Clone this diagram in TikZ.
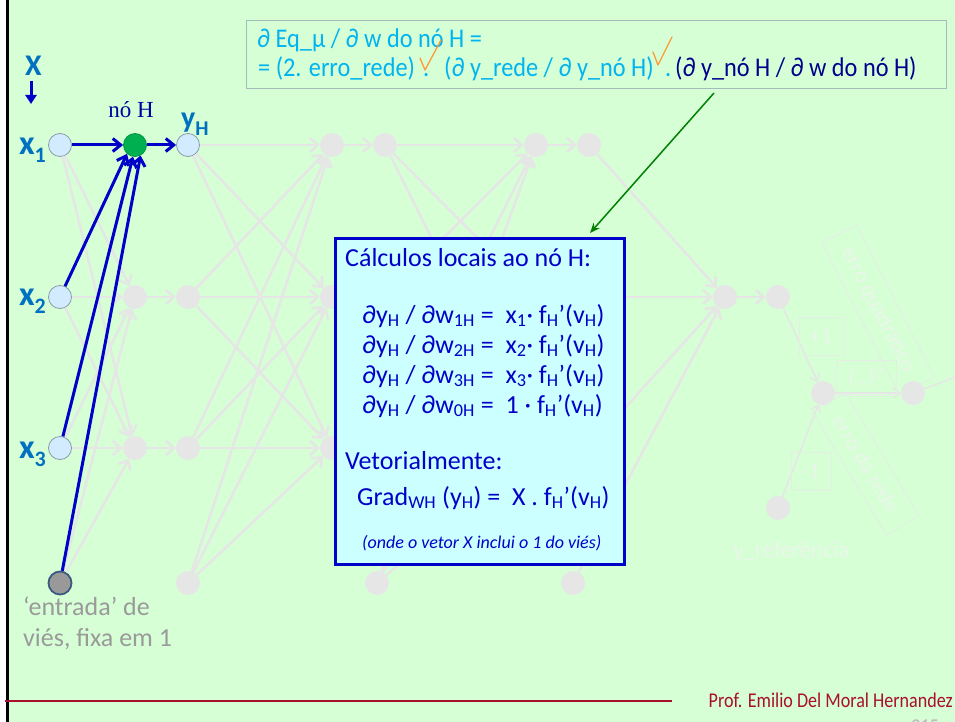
\documentclass[tikz,border=0pt]{standalone}
\usepackage{fontspec}
\setmainfont{Carlito}
\newfontfamily\serifnode{Liberation Serif}
\newfontfamily\narrowfont[FakeStretch=0.9]{Carlito}
\newfontfamily\footfont[FakeStretch=0.86]{Carlito}
\usetikzlibrary{arrows.meta}
\definecolor{bg}{HTML}{D6FFD6}
\definecolor{fade}{HTML}{E6E6E6}
\definecolor{fadetxt}{HTML}{EAF6EA}
\definecolor{fadebox}{HTML}{E4EEE4}
\definecolor{xblue}{HTML}{0070C0}
\definecolor{dblue}{HTML}{0000C8}
\definecolor{cyantxt}{HTML}{00B4F0}
\definecolor{navyc}{HTML}{00008C}
\definecolor{inblue}{HTML}{D3EBFF}
\definecolor{ingray}{HTML}{8C9CAC}
\definecolor{hgreen}{HTML}{00B050}
\definecolor{calcfill}{HTML}{CCFFFF}
\definecolor{footred}{HTML}{A8102C}
\definecolor{chk}{HTML}{FF9933}
\definecolor{fbord}{HTML}{A6BABA}
\definecolor{biasfill}{HTML}{999999}
\definecolor{biasbord}{HTML}{3C5A80}
\definecolor{graytxt}{HTML}{9A9A9A}
\definecolor{garrow}{HTML}{008000}
\newcommand\lsub[2][22]{\raisebox{-8pt}{\fontsize{#1}{#1}\selectfont #2}}
\begin{document}
\begin{tikzpicture}[x=1pt,y=-1pt,
  fnode/.style={circle,fill=fade,minimum size=24pt,inner sep=0pt},
  innode/.style={circle,draw=ingray,fill=inblue,line width=0.8pt,minimum size=23pt,inner sep=0pt},
  hnode/.style={circle,draw=hgreen!85!black,fill=hgreen,line width=0.8pt,minimum size=23pt,inner sep=0pt},
  biasnode/.style={circle,draw=biasbord,fill=biasfill,line width=1.8pt,minimum size=23pt,inner sep=0pt},
  fedge/.style={draw=fade,line width=2.5pt,-{Straight Barb[length=8pt,width=14pt]}},
  fthin/.style={draw=fade,line width=1.5pt,-{Straight Barb[length=6pt,width=10pt]}},
  fline/.style={draw=fade,line width=1.5pt},
  fbox/.style={draw=fadebox,line width=0.8pt,text=fadetxt,font=\fontsize{22}{24}\selectfont,inner sep=0pt},
  bedge/.style={draw=dblue,line width=3pt,-{Straight Barb[length=8pt,width=13pt]}},
  lbl/.style={text=xblue,font=\bfseries\fontsize{34}{36}\selectfont,inner sep=0pt},
  ctext/.style={text=dblue,font=\fontsize{26}{28}\selectfont,anchor=base west,inner sep=0pt},
  ftext/.style={font=\narrowfont\fontsize{27}{29}\selectfont,anchor=base west,inner sep=0pt},
  chkline/.style={draw=chk,line width=1.3pt,line join=round,line cap=round},
  gtext/.style={text=graytxt,font=\fontsize{26}{28}\selectfont,anchor=base west,inner sep=0pt},
  garr/.style={draw=garrow,line width=1.5pt,-{Stealth[length=10pt,width=8pt]}}
]
\useasboundingbox (0,0) rectangle (955,722);
\fill[bg] (0,0) rectangle (955,722);
\fill[white] (0,0) rectangle (6,722);
\draw[black,line width=3pt] (7.5,0) -- (7.5,722);

% faded network nodes
\foreach \n/\x/\y in {s12/135/297, s13/135/448, o12/188/297, o13/188/448, b1/188/583,
  s21/332/145, s22/332/297, s23/332/448, o21/385/145, o22/385/297, o23/385/448, b2/377/583,
  s31/536/145, s32/536/297, s33/536/448, o31/589/145, o32/589/297, o33/589/448, b3/573/583,
  s4/725/297, o4/778/297, e/823/393, sq/913/393, yref/778/508}
  \node[fnode] (\n) at (\x,\y) {};

% highlighted nodes
\node[innode] (in1) at (60,145) {};
\node[innode] (in2) at (60,297) {};
\node[innode] (in3) at (60,448) {};
\node[biasnode] (b0) at (60,583) {};
\node[hnode] (H) at (135,145) {};
\node[innode] (yH) at (188,145) {};

% faded edges
\foreach \s in {s12,s13} \foreach \i in {in1,in2,in3,b0} \draw[fedge] (\i) -- (\s);
\draw[fedge] (s12) -- (o12);
\draw[fedge] (s13) -- (o13);
\foreach \s in {s21,s22,s23} \foreach \i in {yH,o12,o13,b1} \draw[fedge] (\i) -- (\s);
\foreach \s/\o in {s21/o21,s22/o22,s23/o23} \draw[fedge] (\s) -- (\o);
\foreach \s in {s31,s32,s33} \foreach \i in {o21,o22,o23,b2} \draw[fedge] (\i) -- (\s);
\foreach \s/\o in {s31/o31,s32/o32,s33/o33} \draw[fedge] (\s) -- (\o);
\foreach \i in {o31,o32,o33,b3} \draw[fedge] (\i) -- (s4);
\draw[fedge] (s4) -- (o4);

% faded error part
\draw[fthin] (o4) -- (e);
\draw[fthin] (yref) -- (e);
\draw[fthin] (e) -- (sq);
\coordinate (sqout) at (955,377);
\draw[fline] (sq) -- (sqout);
\node[fbox, minimum width=44pt, minimum height=38pt] (plus1) at (821,336) {+1};
\node[fbox, minimum width=60pt, minimum height=35pt] (sqbox) at (866,377.5) {(\,.\,)\textsuperscript{2}};
\node[fbox, minimum width=40pt, minimum height=38pt] (minus1) at (811,471) {-1};
\node[fbox, rotate=-63, minimum width=171pt, minimum height=39pt] (eqbox) at (878,310) {erro quadrático};
\node[fbox, rotate=-59, minimum width=143pt, minimum height=38pt] (erbox) at (866,464) {erro da rede};
\node[text=fadetxt, font=\fontsize{23}{25}\selectfont, anchor=base, inner sep=0pt] (yreflbl) at (791,557) {y\_referência};

% blue connections
\draw[bedge] (in1) -- (H);
\draw[bedge] (H) -- (yH);
\draw[bedge] (in2) -- (H.-132);
\draw[bedge] (in3) -- (H.-100);
\draw[bedge] (b0) -- (H.-62);

% labels
\node[text=xblue, font=\bfseries\fontsize{30}{32}\selectfont, anchor=base, inner sep=0pt] (Xlbl) at (33.5,76) {X};
\coordinate (xa1) at (31,81);
\coordinate (xa2) at (31,104);
\draw[draw=dblue, line width=3pt, -{Triangle[length=9pt,width=11pt]}] (xa1) -- (xa2);
\node[text=dblue!80!black, font=\serifnode\fontsize{23}{25}\selectfont, anchor=base, inner sep=0pt] (Hlbl) at (131,118) {nó H};
\node[lbl, anchor=base west, font=\bfseries\fontsize{30}{32}\selectfont] (yHlbl) at (181,128) {y\lsub[21]{H}};
\node[lbl, anchor=base east] (lx1) at (46,155) {x\lsub{1}};
\node[lbl, anchor=base east] (lx2) at (46,305) {x\lsub{2}};
\node[lbl, anchor=base east] (lx3) at (46,458) {x\lsub{3}};
\node[gtext] (bias1) at (23,615) {‘entrada’ de};
\node[gtext] (bias2) at (23,646) {viés, fixa em 1};

% central box
\node[draw=dblue, line width=2.6pt, fill=calcfill, minimum width=289pt, minimum height=326pt, anchor=north west, inner sep=0pt] (calc) at (334,237) {};
\node[ctext] (c0) at (345,266) {Cálculos locais ao nó H:};
\node[ctext] (c1) at (362,323) {∂y\textsubscript{H} / ∂w\textsubscript{1H} =\ \ x\textsubscript{1}· f\textsubscript{H}’(v\textsubscript{H})};
\node[ctext] (c2) at (362,353) {∂y\textsubscript{H} / ∂w\textsubscript{2H} =\ \ x\textsubscript{2}· f\textsubscript{H}’(v\textsubscript{H})};
\node[ctext] (c3) at (362,383) {∂y\textsubscript{H} / ∂w\textsubscript{3H} =\ \ x\textsubscript{3}· f\textsubscript{H}’(v\textsubscript{H})};
\node[ctext] (c4) at (362,413) {∂y\textsubscript{H} / ∂w\textsubscript{0H} =\ \ 1 · f\textsubscript{H}’(v\textsubscript{H})};
\node[ctext] (c5) at (345,469) {Vetorialmente:};
\node[ctext] (c6) at (357,505) {Grad\textsubscript{WH} (y\textsubscript{H}) =\ \ X . f\textsubscript{H}’(v\textsubscript{H})};
\node[ctext, font=\itshape\fontsize{18}{20}\selectfont] (c7) at (362,548) {(onde o vetor X inclui o 1 do viés)};

% green arrow
\coordinate (gs) at (714,93);
\coordinate (ge) at (590,233);
\draw[garr] (gs) -- (ge);

% formula box
\node[draw=fbord, line width=1pt, minimum width=700pt, minimum height=68pt, anchor=north west, inner sep=0pt] (formula) at (246,20) {};
\node[ftext, text=cyantxt] (f1) at (257,48) {∂ Eq\_µ / ∂ w do nó H =};
\node[ftext, text=cyantxt] (f2a) at (258,77) {= (2. erro\_rede)};
\node[ftext, text=cyantxt] (f2b) at (423,77) {.};
\node[ftext, text=cyantxt] (f2c) at (444,77) {(∂ y\_rede / ∂ y\_nó H)};
\node[ftext, text=cyantxt] (f2d) at (665,77) {.};
\node[ftext, text=navyc] (f2e) at (675,77) {(∂ y\_nó H / ∂ w do nó H)};
\coordinate (k1a) at (420,58);
\coordinate (k1b) at (425,70);
\coordinate (k1c) at (441,40);
\draw[chkline] (k1a) -- (k1b) -- (k1c);
\coordinate (k2a) at (653,52);
\coordinate (k2b) at (658,65);
\coordinate (k2c) at (672,37);
\draw[chkline] (k2a) -- (k2b) -- (k2c);

% footer
\coordinate (fl) at (5,701);
\coordinate (fr) at (672,701);
\draw[draw=footred, line width=2pt] (fl) -- (fr);
\node[text=footred, font=\footfont\fontsize{21}{23}\selectfont, anchor=base east, inner sep=0pt] (prof) at (953,707) {Prof. Emilio Del Moral Hernandez};
\node[text=gray!50, font=\bfseries\itshape\fontsize{18}{20}\selectfont, anchor=base east, inner sep=0pt] (pg) at (938,731) {215};
\end{tikzpicture}
\end{document}
